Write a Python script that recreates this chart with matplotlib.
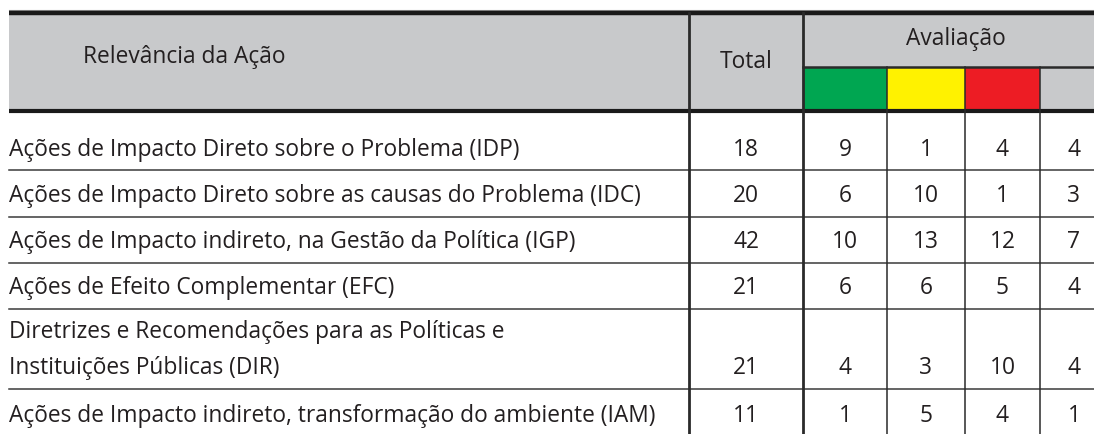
import matplotlib
matplotlib.use("Agg")
from matplotlib import pyplot as plt
from matplotlib.patches import Rectangle

plt.rcParams['font.family'] = ['Open Sans', 'DejaVu Sans']

# dados da tabela
acoes = ["Ações de Impacto Direto sobre o Problema (IDP)",
	"Ações de Impacto Direto sobre as causas do Problema (IDC)",
	"Ações de Impacto indireto, na Gestão da Política (IGP)",
	"Ações de Efeito Complementar (EFC)",
	"Diretrizes e Recomendações para as Políticas e\nInstituições Públicas (DIR)",
	"Ações de Impacto indireto, transformação do ambiente (IAM)"]
total = [18, 20, 42, 21, 21, 11]
verde = [9, 6, 10, 6, 4, 1]
amarelo = [1, 10, 13, 6, 3, 5]
vermelho = [4, 1, 12, 5, 10, 4]
sem_aval = [4, 3, 7, 4, 4, 1]
cores_aval = ['#00a651', '#fff200', '#ed1c24', '#c8c9cb']

# layout (pixels)
W, H = 1094, 434
col_x = [9, 689, 803, 887, 965, 1040, 1108]
head_top, head_mid, head_bot = 13, 67, 111
row_y = [111, 170, 217, 263, 309, 389, 437]
gray = '#c8c9cb'
ink = '#231f20'
fs = 16.4
pad = 14.5
line_gap = 37

fig = plt.figure(figsize=(W / 100, H / 100), dpi=100)
ax = fig.add_axes([0, 0, 1, 1])
ax.set_xlim(0, W)
ax.set_ylim(H, 0)
ax.axis('off')

# cabeçalho
ax.add_patch(Rectangle((col_x[0], head_top), col_x[-1] - col_x[0], head_bot - head_top,
	facecolor=gray, edgecolor='none'))
for k, c in enumerate(cores_aval):
	ax.add_patch(Rectangle((col_x[2 + k], head_mid), col_x[3 + k] - col_x[2 + k],
		head_bot - head_mid, facecolor=c, edgecolor='none'))

ax.text(184, 63, "Relevância da Ação", ha='center', va='baseline',
	fontsize=fs, color=ink)
ax.text((col_x[1] + col_x[2]) / 2, 68, "Total", ha='center', va='baseline',
	fontsize=fs, color=ink)
ax.text((col_x[2] + col_x[-1]) / 2, 45, "Avaliação", ha='center', va='baseline',
	fontsize=fs, color=ink)

# linhas
ax.plot([col_x[0], W], [9.5, 9.5], color='#9a9a9a', lw=0.8)
ax.plot([col_x[0], W], [head_top, head_top], color='#1a1a1a', lw=3.2, solid_capstyle='butt')
ax.plot([col_x[0], W], [head_bot, head_bot], color='#1a1a1a', lw=3.0, solid_capstyle='butt')
ax.plot([col_x[2], W], [head_mid, head_mid], color='#2a2a2a', lw=1.8)
for y in row_y[1:-1]:
	ax.plot([col_x[0], W], [y, y], color='#3a3a3a', lw=1.1)
for k, x in enumerate(col_x[1:-1]):
	y0 = head_top if k < 2 else head_mid
	lw = 2.0 if k < 2 else 1.1
	ax.plot([x, x], [y0, H], color='#2a2a2a', lw=lw)

# células
colunas = [total, verde, amarelo, vermelho, sem_aval]
for i, nome in enumerate(acoes):
	base = row_y[i + 1] - pad
	linhas = nome.split('\n')
	for k, txt in enumerate(reversed(linhas)):
		ax.text(col_x[0], base - k * line_gap, txt, ha='left', va='baseline',
			fontsize=fs, color=ink)
	for j, col in enumerate(colunas):
		xc = (col_x[1 + j] + col_x[2 + j]) / 2
		ax.text(xc, base, str(col[i]), ha='center', va='baseline', fontsize=fs, color=ink)

fig.savefig('out.png', dpi=100)
